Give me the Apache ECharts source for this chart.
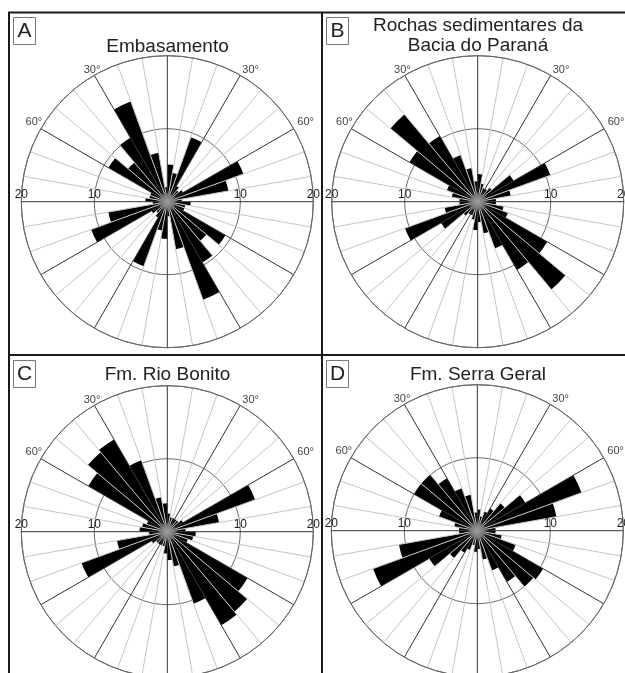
<!DOCTYPE html>
<html>
<head>
<meta charset="utf-8">
<script src="https://cdn.jsdelivr.net/npm/echarts@6/dist/echarts.min.js"></script>
<style>
  html, body { margin: 0; padding: 0; background: #fff; }
  #chart { width: 625px; height: 673px; }
</style>
</head>
<body>
<div id="chart"></div>
<script>
// 10-degree azimuth sectors (clockwise from north)
const categories = ['0','10','20','30','40','50','60','70','80','90','100','110',
  '120','130','140','150','160','170','180','190','200','210','220','230',
  '240','250','260','270','280','290','300','310','320','330','340','350'];

// Frequencies (%) per sector, read from each rose
const valuesA = [5.1, 4.0, 9.4, 2.5, 2.0, 2.5, 11.1, 8.5, 2.0, 3.2, 2.5, 2.5,
  9.2, 7.0, 9.6, 14.3, 6.6, 2.0, 5.1, 4.0, 9.4, 2.5, 2.0, 2.5,
  11.1, 8.2, 2.0, 3.0, 2.5, 2.5, 9.3, 7.0, 10.1, 14.6, 6.8, 2.0];
const valuesB = [3.8, 2.5, 2.0, 2.0, 2.5, 5.7, 10.6, 4.6, 2.5, 2.5, 3.6, 4.4,
  11.0, 15.7, 10.8, 6.8, 4.4, 2.8, 3.9, 2.5, 2.0, 2.0, 2.5, 5.8,
  10.6, 4.6, 2.5, 2.5, 3.6, 4.5, 10.8, 15.6, 10.4, 6.8, 4.7, 2.8];
const valuesC = [2.5, 2.0, 2.0, 2.0, 2.0, 2.5, 12.8, 7.2, 2.5, 3.9, 3.6, 3.0,
  12.7, 14.3, 14.8, 10.5, 4.8, 3.9, 3.0, 2.0, 2.0, 2.0, 2.0, 2.5,
  12.5, 7.0, 2.5, 3.8, 3.5, 3.0, 12.5, 14.2, 14.6, 10.4, 4.8, 3.9];
const valuesD = [2.9, 2.0, 2.8, 3.5, 4.9, 7.6, 15.2, 11.0, 2.5, 2.5, 3.4, 5.6,
  10.4, 10.0, 8.1, 5.8, 4.0, 2.5, 2.9, 2.0, 2.8, 3.5, 4.9, 7.6,
  15.2, 10.9, 2.5, 2.5, 3.2, 5.6, 10.0, 10.0, 8.3, 6.2, 5.0, 2.5];

const panelLetters = ['A', 'B', 'C', 'D'];
const panelTitles = ['Embasamento', 'Rochas sedimentares da\nBacia do Paraná', 'Fm. Rio Bonito', 'Fm. Serra Geral'];
const radiusTicks = [10, 20];
const degreeTicks = [30, 60];

const panelValues = [valuesA, valuesB, valuesC, valuesD];

// layout (pixels)
const centers = [[167.3, 201.7], [477.7, 201.7], [167.3, 531.7], [477.3, 530.7]];
const R = 146;
const titleLayout = [
  { left: 167.5, top: 36.5 },
  { left: 478, top: 16 },
  { left: 167.5, top: 364.5 },
  { left: 478, top: 364.5 }
];
const boxLayout = [[13.5, 17.5], [326.5, 17.5], [13.5, 360.5], [326.5, 360.5]];

const FONT = 'Liberation Sans, Arial, Helvetica, sans-serif';

const polar = [], angleAxis = [], radiusAxis = [], series = [], title = [];

panelValues.forEach((vals, k) => {
  const c = centers[k];
  // main rose polar
  const pm = polar.length;
  polar.push({ center: c, radius: R });
  angleAxis.push({
    polarIndex: pm, type: 'category', data: categories, startAngle: 90, clockwise: true,
    boundaryGap: true, z: 3,
    axisLine: { show: true, lineStyle: { color: '#666', width: 1 } },
    axisTick: { show: false, interval: 0 },
    axisLabel: { show: false, interval: 0 },
    splitLine: { show: true, interval: 0, lineStyle: { color: ['#333', '#c6c6c6', '#c6c6c6'], width: 1 } }
  });
  radiusAxis.push({
    polarIndex: pm, type: 'value', min: 0, max: 20, interval: 10, z: 1,
    axisLine: { show: false }, axisTick: { show: false }, axisLabel: { show: false },
    splitLine: { show: true, lineStyle: { color: '#6a6a6a', width: 1 } }
  });
  series.push({
    type: 'bar', coordinateSystem: 'polar', polarIndex: pm, data: vals,
    barCategoryGap: '0%', barGap: '0%', silent: true, z: 2,
    itemStyle: { color: '#000' }
  });
  series.push({
    type: 'pie', center: c, radius: [0, 9], silent: true, z: 5,
    label: { show: false }, labelLine: { show: false },
    data: [{ value: 1, itemStyle: { color: {
      type: 'radial', x: 0.5, y: 0.5, r: 0.5,
      colorStops: [{ offset: 0, color: '#a0a0a0' }, { offset: 0.6, color: '#808080' }, { offset: 1, color: 'rgba(100,100,100,0.55)' }]
    } } }]
  });

  // east label polar (radius labels to the east, degree labels NE)
  const pe = polar.length;
  polar.push({ center: c, radius: R });
  angleAxis.push({
    polarIndex: pe, type: 'value', min: 0, max: 360, interval: 30, startAngle: 0, clockwise: true, z: 6,
    axisLine: { show: false }, axisTick: { show: false }, splitLine: { show: false },
    axisLabel: {
      margin: -12, fontSize: 11, color: '#444', fontFamily: FONT,
      formatter: function (v) {
        const az = (v + 90) % 360;
        if (az === degreeTicks[0]) return '{e30|' + degreeTicks[0] + '°}';
        if (az === degreeTicks[1]) return '{e60|' + degreeTicks[1] + '°}';
        return '';
      },
      rich: {
        e30: { fontSize: 11, color: '#444', fontFamily: FONT, padding: [0, 0, 10, 8] },
        e60: { fontSize: 11, color: '#444', fontFamily: FONT, padding: [0, 0, 7, 14] }
      }
    }
  });
  radiusAxis.push({
    polarIndex: pe, type: 'value', min: 0, max: 20, interval: 10, z: 6,
    axisLine: { show: false }, axisTick: { show: false }, splitLine: { show: false },
    axisLabel: {
      margin: 1, fontSize: 12, color: '#222', fontFamily: FONT,
      formatter: function (v) { return radiusTicks.indexOf(v) >= 0 ? String(v) : ''; }
    }
  });

  // west label polar
  const pw = polar.length;
  polar.push({ center: c, radius: R });
  angleAxis.push({
    polarIndex: pw, type: 'value', min: 0, max: 360, interval: 30, startAngle: 180, clockwise: true, z: 6,
    axisLine: { show: false }, axisTick: { show: false }, splitLine: { show: false },
    axisLabel: {
      margin: -12, fontSize: 11, color: '#444', fontFamily: FONT,
      formatter: function (v) {
        const az = (v + 270) % 360;
        if (az === 360 - degreeTicks[0]) return '{w30|' + degreeTicks[0] + '°}';
        if (az === 360 - degreeTicks[1]) return '{w60|' + degreeTicks[1] + '°}';
        return '';
      },
      rich: {
        w30: { fontSize: 11, color: '#444', fontFamily: FONT, padding: [0, 0, 10, 0] },
        w60: { fontSize: 11, color: '#444', fontFamily: FONT, padding: [0, 9, 7, 0] }
      }
    }
  });
  radiusAxis.push({
    polarIndex: pw, type: 'value', min: 0, max: 20, interval: 10, z: 6,
    axisLine: { show: false }, axisTick: { show: false }, splitLine: { show: false },
    axisLabel: {
      margin: -1, verticalAlign: 'bottom', fontSize: 12, color: '#222', fontFamily: FONT,
      formatter: function (v) { return radiusTicks.indexOf(v) >= 0 ? String(v) : ''; }
    }
  });

  title.push({
    text: panelTitles[k], left: titleLayout[k].left, top: titleLayout[k].top,
    textAlign: 'center', padding: 0,
    textStyle: { fontSize: 19, fontWeight: 'normal', color: '#222', fontFamily: FONT, lineHeight: 20 }
  });
});

const graphic = [];
const frameStyle = { stroke: '#1a1a1a', lineWidth: 2 };
graphic.push({ type: 'line', shape: { x1: 8, y1: 12.5, x2: 625, y2: 12.5 }, style: frameStyle, z: 10 });
graphic.push({ type: 'line', shape: { x1: 9, y1: 12, x2: 9, y2: 673 }, style: frameStyle, z: 10 });
graphic.push({ type: 'line', shape: { x1: 322, y1: 12, x2: 322, y2: 673 }, style: frameStyle, z: 10 });
graphic.push({ type: 'line', shape: { x1: 8, y1: 355, x2: 625, y2: 355 }, style: frameStyle, z: 10 });
boxLayout.forEach((b, k) => {
  graphic.push({ type: 'rect', shape: { x: b[0], y: b[1], width: 22, height: 27 },
    style: { fill: '#fff', stroke: '#777', lineWidth: 1 }, z: 10 });
  graphic.push({ type: 'text', x: b[0] + 11, y: b[1] + 14, z: 11,
    style: { text: panelLetters[k], font: '21px ' + FONT, fill: '#222',
      align: 'center', verticalAlign: 'middle', textAlign: 'center', textVerticalAlign: 'middle' } });
});

const chart = echarts.init(document.getElementById('chart'), null, { renderer: 'canvas' });
chart.setOption({
  animation: false,
  backgroundColor: '#fff',
  title: title,
  polar: polar,
  angleAxis: angleAxis,
  radiusAxis: radiusAxis,
  series: series,
  graphic: graphic
});
</script>
</body>
</html>
